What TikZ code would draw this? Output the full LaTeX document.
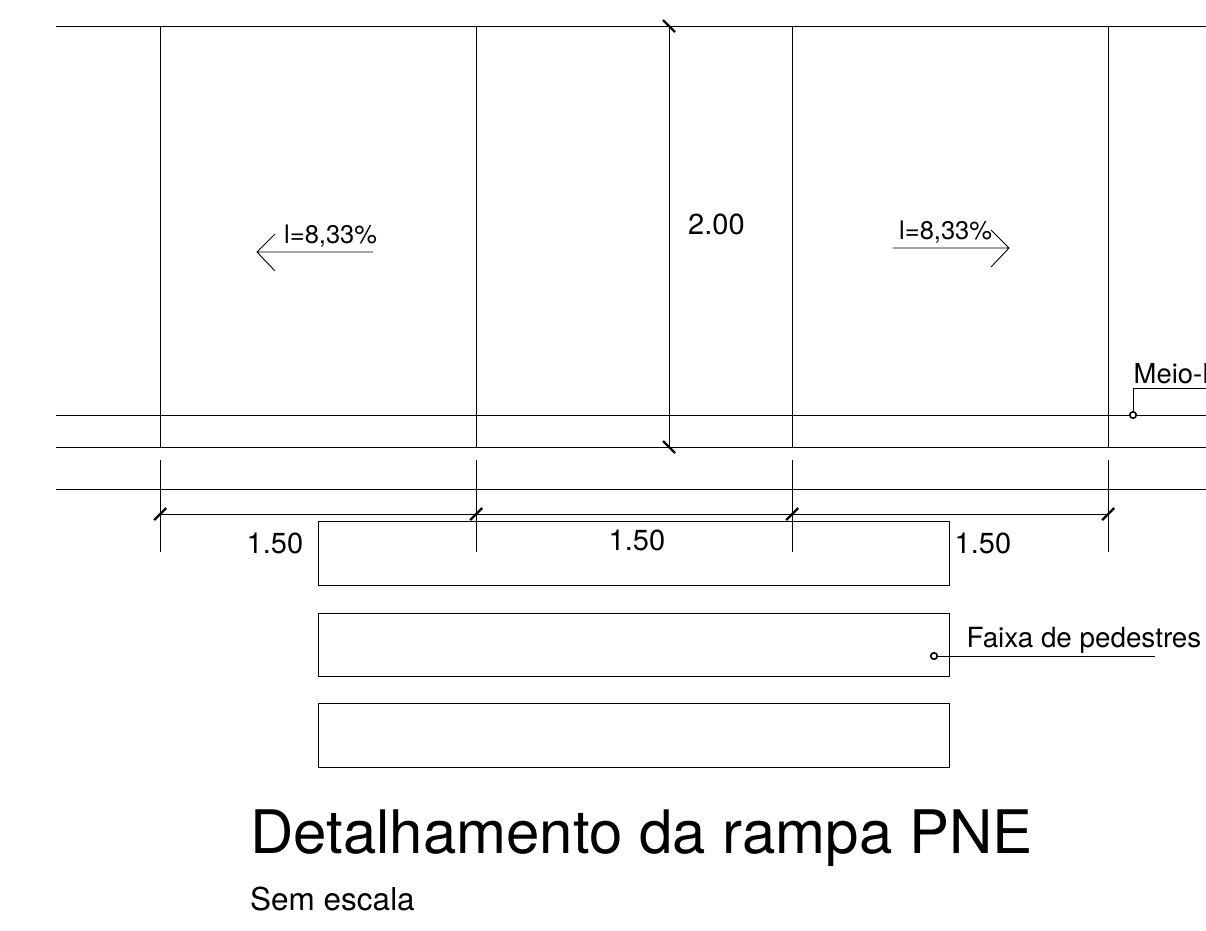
\documentclass[tikz,border=0pt]{standalone}
\usepackage{fontspec}
\setmainfont{TeX Gyre Heros}
\tikzset{
  ln/.style={draw=black,line width=0.9pt},
  tick/.style={draw=black,line width=2.2pt},
  lab/.style={inner sep=0pt,anchor=base west,text=black},
  dot/.style={circle,draw=black,line width=1.6pt,fill=white,minimum size=6.5pt,inner sep=0pt},
  strip/.style={draw=black,line width=0.9pt,rectangle,anchor=north west,minimum width=631pt,minimum height=63.5pt,inner sep=0pt}
}
\begin{document}
\begin{tikzpicture}[x=1pt,y=-1pt]
\useasboundingbox (0,0) rectangle (1206,930);
\clip (0,0) rectangle (1206,930);
% horizontal lines
\foreach \n/\y in {t/26,m/415,b/447,c/489}{
  \coordinate (\n L) at (56,\y);
  \coordinate (\n R) at (1206,\y);
  \draw[ln] (\n L) -- (\n R);
}
% column lines and lower extension lines
\foreach \n/\x in {a/160.2,b/476.2,c/792.2,d/1108.2}{
  \coordinate (\n1) at (\x,26);
  \coordinate (\n2) at (\x,447);
  \coordinate (\n3) at (\x,460);
  \coordinate (\n4) at (\x,551.5);
  \coordinate (\n5) at (\x,514);
  \draw[ln] (\n1) -- (\n2);
  \draw[ln] (\n3) -- (\n4);
  \draw[tick] ([shift={(-6,6)}]\n5) -- ([shift={(6,-6)}]\n5);
}
\draw[ln] (a5) -- (d5);
% vertical dimension
\coordinate (v1) at (669,26);
\coordinate (v2) at (669,447);
\draw[ln] (v1) -- (v2);
\draw[tick] ([shift={(-6,-6)}]v1) -- ([shift={(6,6)}]v1);
\draw[tick] ([shift={(-6,-6)}]v2) -- ([shift={(6,6)}]v2);
% slope arrows
\coordinate (l1) at (373,252); \coordinate (l2) at (257,252);
\coordinate (l3) at (275,234); \coordinate (l4) at (275,271);
\draw[ln] (l1) -- (l2) (l3) -- (l2) -- (l4);
\coordinate (r1) at (893,248); \coordinate (r2) at (1009,248);
\coordinate (r3) at (991,230); \coordinate (r4) at (991,267);
\draw[ln] (r1) -- (r2) (r3) -- (r2) -- (r4);
% strips
\node[strip] (s1) at (318,521) {};
\node[strip] (s2) at (318,612.5) {};
\node[strip] (s3) at (318,703) {};
% leaders
\node[dot] (d1) at (1133,415) {};
\coordinate (d1a) at (1133,388);
\coordinate (d1b) at (1206,388);
\draw[ln] (d1) -- (d1a) -- (d1b);
\node[dot] (d2) at (934,656) {};
\coordinate (d2b) at (1155,656);
\draw[ln] (d2) -- (d2b);
% labels
\node[lab,font=\fontsize{25.5}{25.5}\selectfont] (t1) at (284,243.5) {l=8,33\%};
\node[lab,font=\fontsize{25.5}{25.5}\selectfont] (t2) at (899,239.5) {l=8,33\%};
\node[lab,font=\fontsize{29}{29}\selectfont] (t3) at (688,234.5) {2.00};
\node[lab,font=\fontsize{29}{29}\selectfont] (t4) at (246.5,553) {1.50};
\node[lab,font=\fontsize{29}{29}\selectfont] (t5) at (608.5,550) {1.50};
\node[lab,font=\fontsize{29}{29}\selectfont] (t6) at (954.5,553) {1.50};
\node[lab,font=\fontsize{27.4}{27.4}\selectfont] (t7) at (1133.5,383) {Meio-Fio};
\node[lab,font=\fontsize{27.8}{27.8}\selectfont] (t8) at (966.5,647) {Faixa de pedestres};
\node[lab,font=\fontsize{60}{60}\selectfont] (t9) at (250,853) {Detalhamento da rampa PNE};
\node[lab,font=\fontsize{31.5}{31.5}\selectfont] (t10) at (250,910) {Sem escala};
\end{tikzpicture}
\end{document}
